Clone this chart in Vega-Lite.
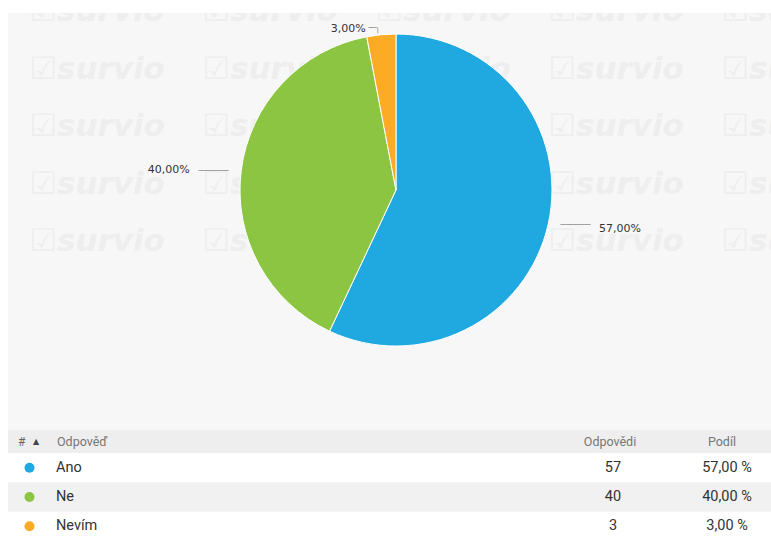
{
  "$schema": "https://vega.github.io/schema/vega-lite/v6.json",
  "background": "#ffffff",
  "padding": {"left": 8, "top": 13, "right": 0, "bottom": 0},
  "spacing": 0,
  "config": {"view": {"stroke": null}, "text": {"font": "Roboto"}},
  "datasets": {
    "answers": [
      {"answer": "Ano", "count": 57, "label": "57,00%", "share": "57,00 %"},
      {"answer": "Ne", "count": 40, "label": "40,00%", "share": "40,00 %"},
      {"answer": "Nevím", "count": 3, "label": "3,00%", "share": "3,00 %"}
    ],
    "wm": [
      {"c": 0, "r": 0}, {"c": 1, "r": 0}, {"c": 2, "r": 0}, {"c": 3, "r": 0}, {"c": 4, "r": 0},
      {"c": 0, "r": 1}, {"c": 1, "r": 1}, {"c": 2, "r": 1}, {"c": 3, "r": 1}, {"c": 4, "r": 1},
      {"c": 0, "r": 2}, {"c": 1, "r": 2}, {"c": 2, "r": 2}, {"c": 3, "r": 2}, {"c": 4, "r": 2},
      {"c": 0, "r": 3}, {"c": 1, "r": 3}, {"c": 2, "r": 3}, {"c": 3, "r": 3}, {"c": 4, "r": 3},
      {"c": 0, "r": 4}, {"c": 1, "r": 4}, {"c": 2, "r": 4}, {"c": 3, "r": 4}, {"c": 4, "r": 4}
    ]
  },
  "vconcat": [
    {
      "width": 763,
      "height": 417,
      "view": {"fill": "#f7f7f7", "stroke": null},
      "resolve": {"scale": {"x": "independent", "y": "independent"}},
      "layer": [
        {
          "data": {"name": "wm"},
          "mark": {"type": "text", "text": "☑survio", "font": "DejaVu Sans", "fontSize": 31, "fontStyle": "italic", "fontWeight": "bold", "color": "#eeeeee", "clip": true},
          "encoding": {
            "x": {"field": "c", "type": "quantitative", "scale": {"domain": [0, 4], "range": [89, 781]}, "axis": null},
            "y": {"field": "r", "type": "quantitative", "scale": {"domain": [0, 4], "range": [-1, 229]}, "axis": null}
          }
        },
        {
          "data": {"name": "answers"},
          "mark": {"type": "arc", "radius": 156, "stroke": "#ffffff", "strokeWidth": 1},
          "encoding": {
            "x": {"datum": 0.5085, "type": "quantitative", "scale": {"domain": [0, 1]}, "axis": null},
            "y": {"datum": 0.4245, "type": "quantitative", "scale": {"domain": [0, 1], "reverse": true}, "axis": null},
            "theta": {"field": "count", "type": "quantitative", "stack": true},
            "order": {"field": "count", "type": "quantitative", "sort": "descending"},
            "color": {"field": "answer", "type": "nominal", "scale": {"domain": ["Ano", "Ne", "Nevím"], "range": ["#20a9e1", "#8cc541", "#fbab24"]}, "legend": null}
          }
        },
        {
          "data": {"name": "answers"},
          "mark": {"type": "text", "font": "DejaVu Sans", "fontSize": 10, "color": "#999999",
            "text": {"expr": "datum.answer === 'Nevím' ? '─╮' : '─────'"},
            "radius": {"expr": "datum.answer === 'Nevím' ? 163 : 184"},
            "align": {"expr": "datum.answer === 'Nevím' ? 'right' : 'center'"},
            "dy": {"expr": "datum.answer === 'Ano' ? -5 : (datum.answer === 'Ne' ? 4 : 0)"}
          },
          "encoding": {
            "x": {"datum": 0.5085, "type": "quantitative", "scale": {"domain": [0, 1]}, "axis": null},
            "y": {"datum": 0.4245, "type": "quantitative", "scale": {"domain": [0, 1], "reverse": true}, "axis": null},
            "theta": {"field": "count", "type": "quantitative", "stack": true},
            "order": {"field": "count", "type": "quantitative", "sort": "descending"},
            "detail": {"field": "answer", "type": "nominal"}
          }
        },
        {
          "data": {"name": "answers"},
          "mark": {"type": "text", "font": "DejaVu Sans", "fontSize": 11, "color": "#333333",
            "radius": {"expr": "datum.answer === 'Nevím' ? 163 : 208"},
            "align": {"expr": "datum.answer === 'Ano' ? 'left' : 'right'"},
            "dx": {"expr": "datum.answer === 'Nevím' ? -15 : 0"},
            "dy": {"expr": "datum.answer === 'Ano' ? -6 : (datum.answer === 'Ne' ? 6 : 1)"}
          },
          "encoding": {
            "x": {"datum": 0.5085, "type": "quantitative", "scale": {"domain": [0, 1]}, "axis": null},
            "y": {"datum": 0.4245, "type": "quantitative", "scale": {"domain": [0, 1], "reverse": true}, "axis": null},
            "theta": {"field": "count", "type": "quantitative", "stack": true},
            "order": {"field": "count", "type": "quantitative", "sort": "descending"},
            "detail": {"field": "answer", "type": "nominal"},
            "text": {"field": "label", "type": "nominal"}
          }
        }
      ]
    },
    {
      "width": 763,
      "height": 23,
      "view": {"fill": "#eeeeee", "stroke": null},
      "data": {"values": [{}]},
      "layer": [
        {"mark": {"type": "text", "text": "#", "align": "left", "fontSize": 12, "color": "#666666"},
         "encoding": {"x": {"datum": 10, "type": "quantitative", "scale": {"domain": [0, 763]}, "axis": null}}},
        {"mark": {"type": "text", "text": "▲", "align": "center", "font": "DejaVu Sans", "fontSize": 8, "color": "#444444"},
         "encoding": {"x": {"datum": 28, "type": "quantitative", "scale": {"domain": [0, 763]}, "axis": null}}},
        {"mark": {"type": "text", "text": "Odpověď", "align": "left", "fontSize": 12.5, "color": "#777777"},
         "encoding": {"x": {"datum": 49, "type": "quantitative", "scale": {"domain": [0, 763]}, "axis": null}}},
        {"mark": {"type": "text", "text": "Odpovědi", "align": "center", "fontSize": 12.5, "color": "#777777"},
         "encoding": {"x": {"datum": 602, "type": "quantitative", "scale": {"domain": [0, 763]}, "axis": null}}},
        {"mark": {"type": "text", "text": "Podíl", "align": "center", "fontSize": 12.5, "color": "#777777"},
         "encoding": {"x": {"datum": 714, "type": "quantitative", "scale": {"domain": [0, 763]}, "axis": null}}}
      ]
    },
    {
      "width": 763,
      "height": 88,
      "data": {"name": "answers"},
      "encoding": {
        "y": {"field": "answer", "type": "nominal", "sort": null, "axis": null, "scale": {"paddingInner": 0, "paddingOuter": 0}}
      },
      "layer": [
        {"mark": {"type": "rect"},
         "encoding": {"fill": {"condition": {"test": "datum.answer === 'Ne'", "value": "#f1f1f1"}, "value": "#ffffff"}}},
        {"mark": {"type": "point", "filled": true, "shape": "circle", "size": 100, "opacity": 1},
         "encoding": {
           "x": {"datum": 21.5, "type": "quantitative", "scale": {"domain": [0, 763]}, "axis": null},
           "color": {"field": "answer", "type": "nominal", "scale": {"domain": ["Ano", "Ne", "Nevím"], "range": ["#20a9e1", "#8cc541", "#fbab24"]}, "legend": null}
         }},
        {"mark": {"type": "text", "align": "left", "fontSize": 14.5, "color": "#333333"},
         "encoding": {
           "x": {"datum": 48, "type": "quantitative", "scale": {"domain": [0, 763]}, "axis": null},
           "text": {"field": "answer", "type": "nominal"}
         }},
        {"mark": {"type": "text", "align": "center", "fontSize": 14.5, "color": "#333333"},
         "encoding": {
           "x": {"datum": 605, "type": "quantitative", "scale": {"domain": [0, 763]}, "axis": null},
           "text": {"field": "count", "type": "quantitative"}
         }},
        {"mark": {"type": "text", "align": "center", "fontSize": 14.5, "color": "#333333"},
         "encoding": {
           "x": {"datum": 719, "type": "quantitative", "scale": {"domain": [0, 763]}, "axis": null},
           "text": {"field": "share", "type": "nominal"}
         }}
      ]
    }
  ]
}
